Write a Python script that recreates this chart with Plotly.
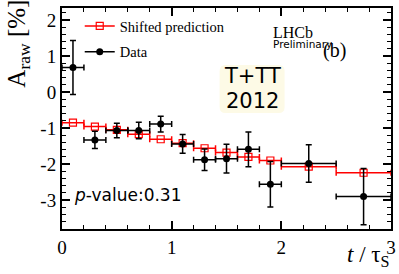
import plotly.graph_objects as go

# ---- data ----
t_centers = [0.1, 0.3, 0.5, 0.7, 0.9, 1.1, 1.3, 1.5, 1.7, 1.9, 2.25, 2.75]
t_halfwidth = [0.1, 0.1, 0.1, 0.1, 0.1, 0.1, 0.1, 0.1, 0.1, 0.1, 0.25, 0.25]
data_araw = [0.68, -1.33, -1.07, -1.07, -0.89, -1.44, -1.88, -1.85, -1.59, -2.56, -1.98, -2.90]
data_err = [0.75, 0.24, 0.20, 0.23, 0.22, 0.26, 0.30, 0.40, 0.48, 0.63, 0.52, 0.78]
pred_araw = [-0.85, -0.96, -1.05, -1.17, -1.31, -1.42, -1.56, -1.68, -1.80, -1.90, -2.07, -2.24]

x_ticks = [0, 1, 2, 3]
y_ticks = [-3, -2, -1, 0, 1, 2]

RED = "#ff0000"
SERIF = "Liberation Serif"
SANS = "DejaVu Sans"

fig = go.Figure()

# shifted prediction
fig.add_trace(go.Scatter(
    x=t_centers, y=pred_araw, mode="markers",
    marker=dict(symbol="square-open", size=7, color=RED, line=dict(width=1.2, color=RED)),
    error_x=dict(type="data", array=t_halfwidth, color=RED, thickness=1.5, width=3),
    showlegend=False, hoverinfo="skip"))

# data
fig.add_trace(go.Scatter(
    x=t_centers, y=data_araw, mode="markers",
    marker=dict(symbol="circle", size=7, color="black"),
    error_x=dict(type="data", array=t_halfwidth, color="black", thickness=1.5, width=3),
    error_y=dict(type="data", array=data_err, color="black", thickness=1.5, width=3),
    showlegend=False, hoverinfo="skip"))

# legend entries
fig.add_trace(go.Scatter(
    x=[None], y=[None], mode="lines+markers", name="Shifted prediction",
    line=dict(color=RED, width=1.5),
    marker=dict(symbol="square-open", size=7, color=RED, line=dict(width=1.2, color=RED)),
    legendgroup="a"))
fig.add_trace(go.Scatter(
    x=[None], y=[None], mode="lines+markers", name="Data",
    line=dict(color="black", width=1.5),
    marker=dict(symbol="circle", size=7, color="black"),
    legendgroup="b"))

axis_common = dict(
    showgrid=False, zeroline=False, showline=True, linecolor="black", linewidth=2,
    mirror="allticks", ticks="inside", ticklen=8, tickwidth=1.5, tickcolor="black",
    tickfont=dict(family=SERIF, size=19, color="black"),
)

fig.update_xaxes(range=[0, 3], tickvals=x_ticks, ticktext=[str(v) for v in x_ticks],
                 minor=dict(ticks="inside", ticklen=4, tickwidth=1.2, dtick=0.2, tick0=0, tickcolor="black"),
                 **axis_common)
fig.update_yaxes(range=[-3.8, 2.33], tickvals=y_ticks, ticktext=[str(v) for v in y_ticks],
                 minor=dict(ticks="inside", ticklen=4, tickwidth=1.2, dtick=0.2, tick0=0, tickcolor="black"),
                 **axis_common)

# yellow label box with rounded corners (paper coordinates)
x0p, x1p = (222 - 62) / 334, (288 - 62) / 334
y0p, y1p = 1 - (113 - 8) / 221, 1 - (65 - 8) / 221
rx, ry = 6 / 334, 6 / 221
box_path = (
    f"M {x0p + rx},{y0p} L {x1p - rx},{y0p} Q {x1p},{y0p} {x1p},{y0p + ry} "
    f"L {x1p},{y1p - ry} Q {x1p},{y1p} {x1p - rx},{y1p} "
    f"L {x0p + rx},{y1p} Q {x0p},{y1p} {x0p},{y1p - ry} "
    f"L {x0p},{y0p + ry} Q {x0p},{y0p} {x0p + rx},{y0p} Z"
)
fig.add_shape(type="path", xref="paper", yref="paper", path=box_path,
              fillcolor="#fdfae6", line=dict(width=0), layer="below")

ann = [
    dict(text="T+TT", x=(255 - 62) / 334, y=1 - (76 - 8) / 221, xanchor="center",
         font=dict(family=SANS, size=21, color="black")),
    dict(text="2012", x=(255 - 62) / 334, y=1 - (101 - 8) / 221, xanchor="center",
         font=dict(family=SANS, size=21, color="black")),
    dict(text="LHCb", x=(274 - 62) / 334, y=1 - (32 - 8) / 221, xanchor="left",
         font=dict(family=SERIF, size=16, color="black")),
    dict(text="Preliminary", x=(274 - 62) / 334, y=1 - (44 - 8) / 221, xanchor="left",
         font=dict(family=SANS, size=10.5, color="black")),
    dict(text="(b)", x=(339 - 62) / 334, y=1 - (50 - 8) / 221, xanchor="center",
         font=dict(family=SERIF, size=20, color="black")),
    dict(text="<i>p</i>-value:0.31", x=(129 - 62) / 334, y=1 - (195 - 8) / 221, xanchor="center",
         font=dict(family=SANS, size=17, color="black")),
]
annotations = []
for a in ann:
    a.update(xref="paper", yref="paper", showarrow=False, yanchor="middle")
    annotations.append(a)

# axis titles
annotations.append(dict(text="A<sub>raw</sub> [%]", textangle=-90, xref="paper", yref="paper",
                        x=-(62 - 18) / 334, y=1 - (44 - 8) / 221, showarrow=False,
                        xanchor="center", yanchor="middle",
                        font=dict(family=SERIF, size=25, color="black")))
annotations.append(dict(text="<i>t</i> / τ<sub>S</sub>", xref="paper", yref="paper",
                        x=1.0, y=-(256 - 229) / 221, showarrow=False,
                        xanchor="right", yanchor="middle",
                        font=dict(family=SERIF, size=23, color="black")))

fig.update_layout(
    width=399, height=274,
    margin=dict(l=62, r=3, t=8, b=45),
    paper_bgcolor="white", plot_bgcolor="white",
    font=dict(family=SERIF, color="black"),
    annotations=annotations,
    showlegend=True,
    legend=dict(x=(80 - 62) / 334, y=1 - (10 - 8) / 221, xanchor="left", yanchor="top",
                bgcolor="rgba(0,0,0,0)", font=dict(family=SERIF, size=14.5, color="black"),
                tracegroupgap=4, itemwidth=30),
)

fig.write_html("out.html", config={"displayModeBar": False},
               post_script="document.body.style.margin='0';document.body.style.padding='0';")
